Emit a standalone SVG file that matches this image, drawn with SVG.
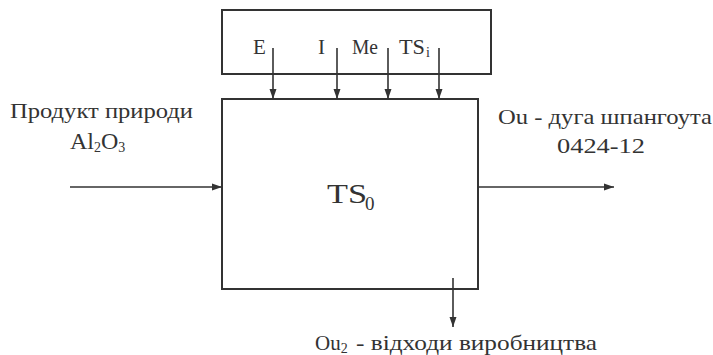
<svg xmlns="http://www.w3.org/2000/svg" width="713" height="355" viewBox="0 0 713 355">
<defs>
<marker id="ah" viewBox="0 0 10 10" refX="10" refY="5" markerWidth="10" markerHeight="10" markerUnits="userSpaceOnUse" orient="auto">
<path d="M0,1.5 L10,5 L0,8.5 z" fill="#333"/>
</marker>
</defs>
<style>
.box{fill:none;stroke:#333;stroke-width:2}
.ln{fill:none;stroke:#333;stroke-width:1.6;marker-end:url(#ah)}
text{font-family:"Liberation Serif","DejaVu Serif",serif;fill:#333}
.lbl{font-size:21px}
.mid{font-size:22px}
.sub{font-size:14px}
.big{font-size:28px}
</style>
<rect width="713" height="355" fill="#ffffff"/>
<g id="resources">
<rect class="box" x="222" y="10" width="269" height="64"/>
<text class="lbl" x="253" y="54">E</text>
<text class="lbl" x="318" y="54">I</text>
<text class="lbl" x="352" y="54" textLength="26" lengthAdjust="spacingAndGlyphs">Me</text>
<text class="lbl" x="399" y="54" textLength="26" lengthAdjust="spacingAndGlyphs">TS</text>
<text class="sub" x="426" y="57">i</text>
</g>
<g id="process">
<rect class="box" x="222" y="99" width="256" height="190"/>
<text class="big" x="327" y="203" textLength="40" lengthAdjust="spacingAndGlyphs">TS</text>
<text font-size="19" x="365" y="210">0</text>
</g>
<g id="input">
<text class="mid" x="10" y="118" textLength="183" lengthAdjust="spacingAndGlyphs">Продукт природи</text>
<text font-size="24" x="70" y="149">Al<tspan class="sub" font-size="15" dy="3">2</tspan><tspan dy="-3">O</tspan><tspan class="sub" font-size="15" dy="3">3</tspan></text>
</g>
<g id="output1">
<text class="mid" x="498" y="124" textLength="214" lengthAdjust="spacingAndGlyphs">Ou - дуга шпангоута</text>
<text class="mid" x="557" y="153" textLength="88" lengthAdjust="spacingAndGlyphs">0424-12</text>
</g>
<g id="output2">
<text class="lbl" x="315" y="350">Ou<tspan class="sub" dy="3">2</tspan></text>
<text class="lbl" x="356" y="350" textLength="241" lengthAdjust="spacingAndGlyphs">- відходи виробництва</text>
</g>
<g id="connectors">
<line class="ln" x1="273" y1="48" x2="273" y2="99"/>
<line class="ln" x1="337" y1="48" x2="337" y2="99"/>
<line class="ln" x1="388" y1="48" x2="388" y2="99"/>
<line class="ln" x1="439" y1="48" x2="439" y2="99"/>
<line class="ln" x1="70" y1="187" x2="222" y2="187"/>
<line class="ln" x1="478" y1="187" x2="614" y2="187"/>
<line class="ln" x1="453" y1="278" x2="453" y2="327"/>
</g>
</svg>
